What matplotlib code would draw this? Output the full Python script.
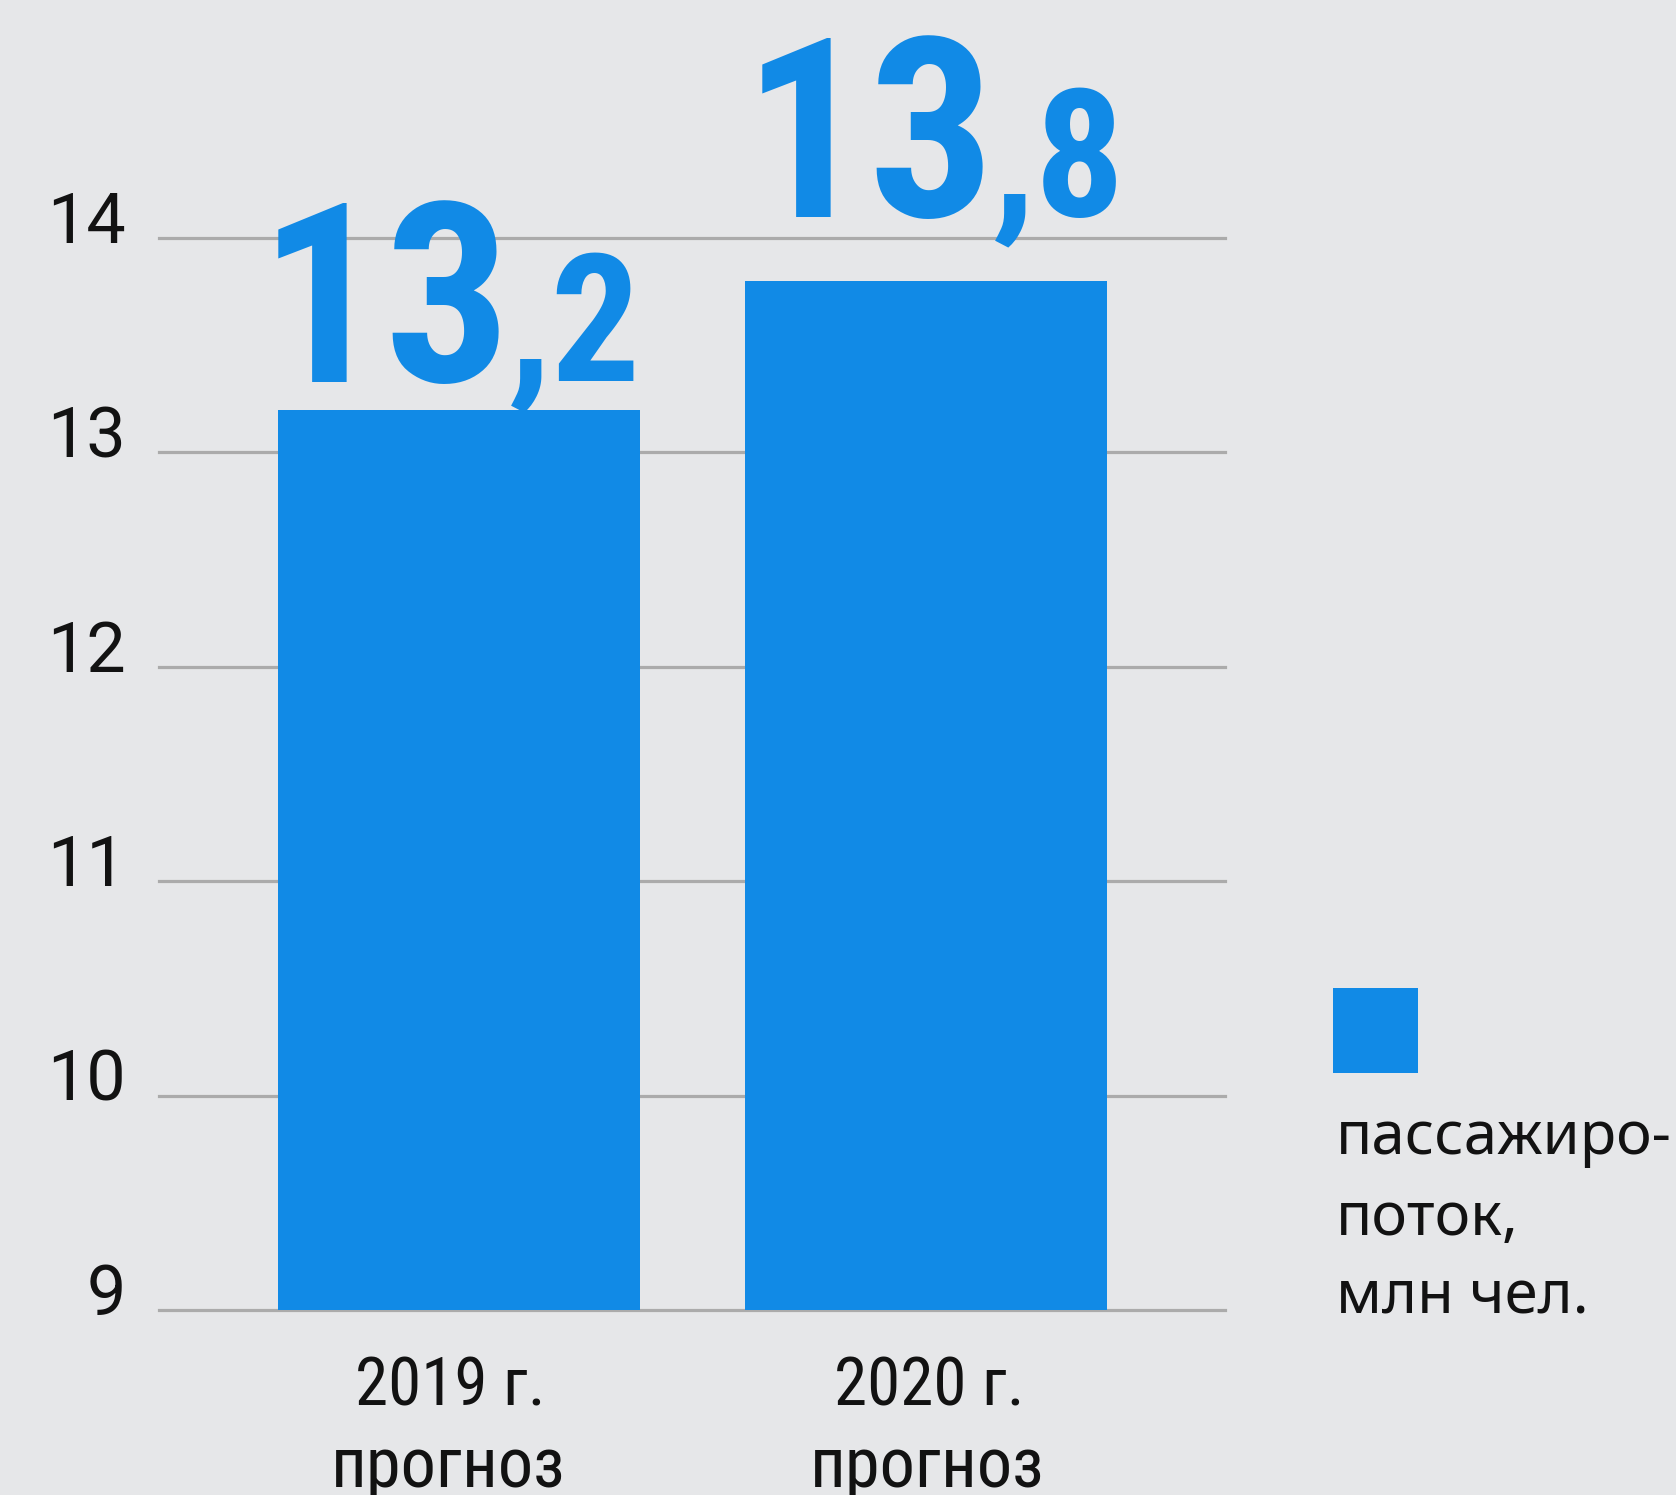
import os
import matplotlib
matplotlib.use("Agg")
import matplotlib.pyplot as plt
from matplotlib import font_manager as fm
from matplotlib.textpath import TextPath
from matplotlib.transforms import offset_copy, blended_transform_factory
from matplotlib.patches import Rectangle

# ---------------- data ----------------
categories = ["2019 г.", "2020 г."]
category_notes = ["прогноз", "прогноз"]
values = [13.2, 13.8]
y_ticks = [9, 10, 11, 12, 13, 14]
y_tick_labels = ["9", "10", "11", "12", "13", "14"]
legend_lines = ["пассажиро-", "поток,", "млн чел."]

# ---------------- style ----------------
BG = "#E6E7E9"
BLUE = "#118AE6"
GRID = "#ABABAB"
INK = "#121212"
DPI = 100
W, H = 1676, 1495


def pick_font(names, fallback_family, weight="normal"):
    files = {}
    for f in fm.fontManager.ttflist:
        base = os.path.splitext(os.path.basename(f.fname))[0].lower()
        files.setdefault(base, f.fname)
    for n in names:
        if n.lower() in files:
            return fm.FontProperties(fname=files[n.lower()])
    return fm.FontProperties(family=fallback_family, weight=weight)


bold_fp = pick_font(["NotoSans-ExtraCondensedBold", "RobotoCondensed-Bold",
                     "NotoSans-CondensedBold", "LiberationSansNarrow-Bold",
                     "DejaVuSansCondensed-Bold"], "Roboto", "bold")
cond_fp = pick_font(["RobotoCondensed-Regular", "NotoSans-SemiCondensed",
                     "LiberationSansNarrow-Regular"], "Roboto")
tick_fp = fm.FontProperties(family="Roboto")
leg_fp = fm.FontProperties(family="Noto Sans")


def ink(fp, s, size=100.0):
    e = TextPath((0, 0), s, size=size, prop=fp).get_extents()
    return e.width / size, e.height / size


def size_h(fp, ch, px):
    return px / ink(fp, ch)[1] * 72.0 / DPI


def size_w(fp, s, px):
    return px / ink(fp, s)[0] * 72.0 / DPI


big_size = size_h(bold_fp, "1", 178)
small_size = size_h(bold_fp, "8", 130)
tick_size = size_h(tick_fp, "1", 50)
cat_size = size_h(cond_fp, "1", 48)
note_size = size_w(cond_fp, "прогноз", 226)
leg_size = size_w(leg_fp, "пассажиро-", 328)

fig = plt.figure(figsize=(W / DPI, H / DPI), dpi=DPI, facecolor=BG)
ax_left, ax_right = 159, 1225
ax_bottom, ax_top = 1310, 238
ax = fig.add_axes([ax_left / W, (H - ax_bottom) / H,
                   (ax_right - ax_left) / W, (ax_bottom - ax_top) / H])
ax.set_facecolor(BG)
for s in ax.spines.values():
    s.set_visible(False)

x = list(range(len(values)))
ax.bar(x, [v - y_ticks[0] for v in values], bottom=y_ticks[0], width=0.775,
       color=BLUE, zorder=3)
ax.set_xlim(-0.642, 1.640)
ax.set_ylim(y_ticks[0], y_ticks[-1])
ax.set_xticks([])
ax.set_yticks([])

for t in y_ticks:
    ax.axhline(t, 0, 1, color=GRID, lw=2.3, zorder=1, clip_on=False)

# y tick labels
ytr = blended_transform_factory(ax.transAxes, ax.transData)
for t, lab in zip(y_ticks, y_tick_labels):
    ax.text(0, t, lab, transform=offset_copy(ytr, fig, x=-33, y=-5, units="dots"),
            ha="right", va="baseline", fontproperties=tick_fp, fontsize=tick_size,
            color=INK)

# category labels
cat_dx = [-9, 3]
for xi, cat, note, dx in zip(x, categories, category_notes, cat_dx):
    ax.text(xi, y_ticks[0], cat,
            transform=offset_copy(ax.transData, fig, x=dx, y=-96, units="dots"),
            ha="center", va="baseline", fontproperties=cond_fp, fontsize=cat_size,
            color=INK)
    ax.text(xi, y_ticks[0], note,
            transform=offset_copy(ax.transData, fig, x=dx - 2, y=-177, units="dots"),
            ha="center", va="baseline", fontproperties=cond_fp, fontsize=note_size,
            color=INK)

# value labels (big integer part, smaller decimal part), centred as a group
label_cx = [-14, 2]      # group centre offset from bar centre, px
label_dy = [28, 64]      # baseline height above bar top, px
gap = 28
px_per_pt = DPI / 72.0
for xi, v, cx, dy in zip(x, values, label_cx, label_dy):
    txt = f"{v:.1f}".replace(".", ",")
    ip, fp_ = txt.split(",")
    w_i = ink(bold_fp, ip)[0] * big_size * px_per_pt
    w_f = ink(bold_fp, "," + fp_)[0] * small_size * px_per_pt
    left = cx - (w_i + gap + w_f) / 2.0
    ax.text(xi, v, ip,
            transform=offset_copy(ax.transData, fig, x=left, y=dy, units="dots"),
            ha="left", va="baseline", fontproperties=bold_fp, fontsize=big_size,
            color=BLUE)
    ax.text(xi, v, "," + fp_,
            transform=offset_copy(ax.transData, fig, x=left + w_i + gap, y=dy,
                                  units="dots"),
            ha="left", va="baseline", fontproperties=bold_fp, fontsize=small_size,
            color=BLUE)

# legend
fig.patches.append(Rectangle((1333 / W, (H - 1073) / H), 85 / W, 85 / H,
                             transform=fig.transFigure, facecolor=BLUE,
                             edgecolor="none"))
for line, base in zip(legend_lines, [1154, 1235, 1314]):
    fig.text(1336 / W, (H - base) / H, line, ha="left", va="baseline",
             fontproperties=leg_fp, fontsize=leg_size, color=INK)

fig.savefig("out.png", dpi=DPI, facecolor=BG)
